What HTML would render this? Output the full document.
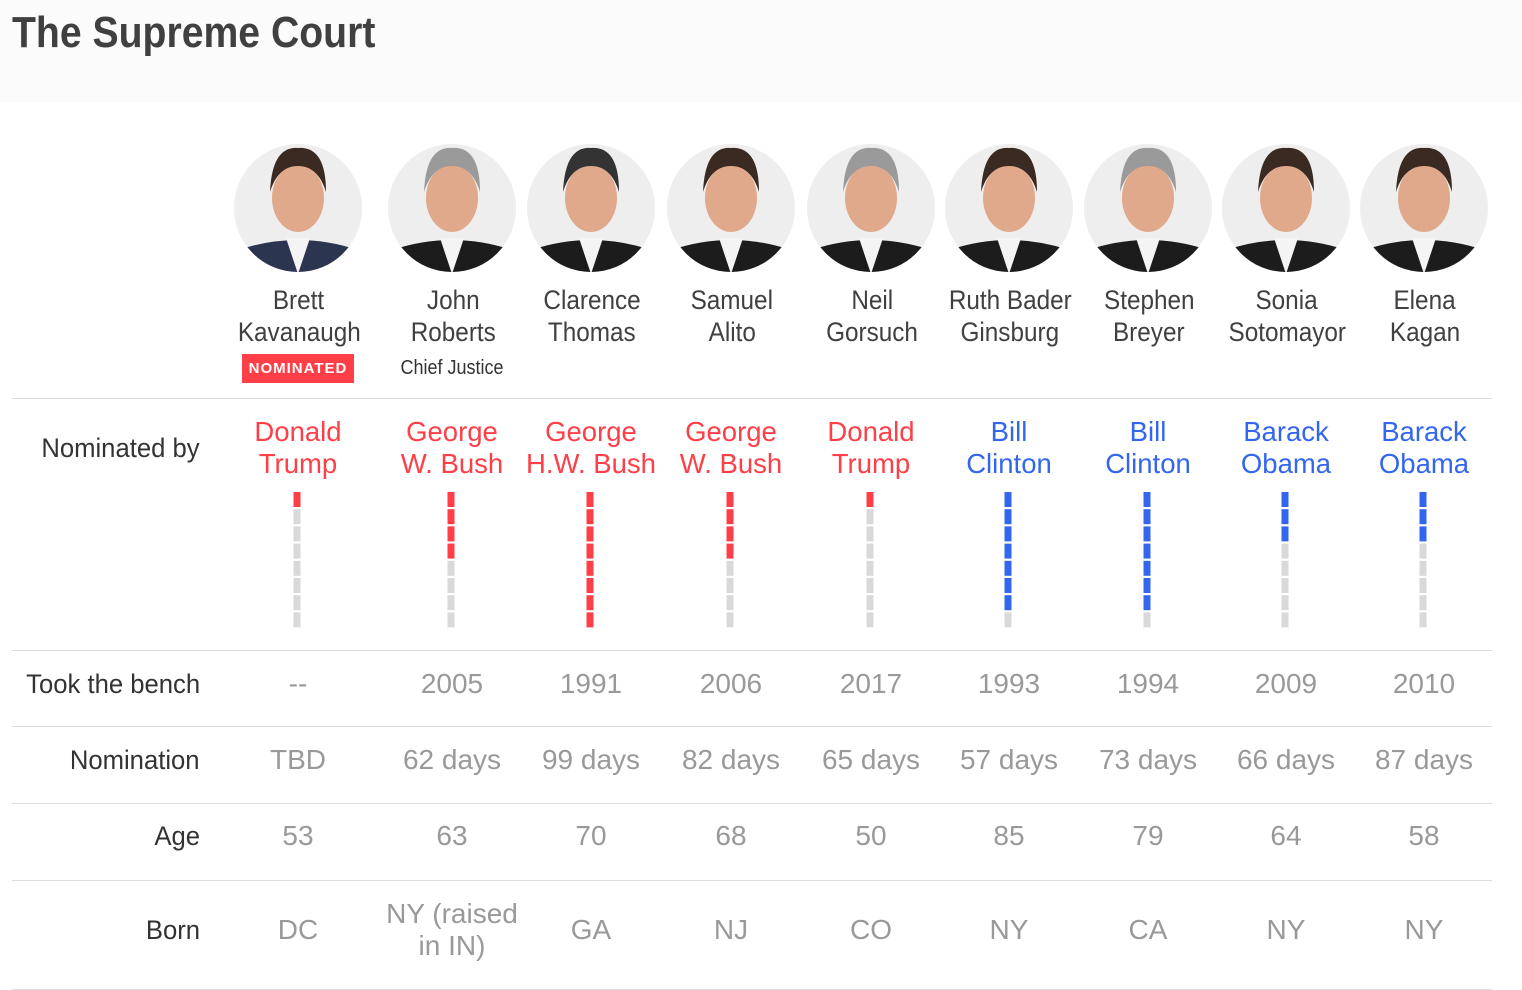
<!DOCTYPE html>
<html><head><meta charset="utf-8"><style>
body{margin:0;width:1522px;height:990px;background:#fff;position:relative;overflow:hidden;font-family:"Liberation Sans",sans-serif}
.hdr{position:absolute;left:0;top:0;width:1522px;height:102px;background:#fbfbfb}
.title{position:absolute;left:12px;top:8px;font:bold 44px "Liberation Sans",sans-serif;color:#404040;transform:scaleX(.89);transform-origin:left center;white-space:nowrap}
.a{position:absolute;text-align:center;white-space:nowrap}
.nm{font:27px/32px "Liberation Sans",sans-serif;color:#404040}
.nm span{display:inline-block;transform:scaleX(.9);transform-origin:center}
.pres{font:27.5px/32px "Liberation Sans",sans-serif}
.val{font:28px/32px "Liberation Sans",sans-serif;color:#999}
.lab{position:absolute;right:1322px;font:27px/32px "Liberation Sans",sans-serif;color:#333;text-align:right;white-space:nowrap;transform:scaleX(.95);transform-origin:right center}
.line{position:absolute;left:12px;width:1480px;height:1px;background:#ddd}
</style></head><body>
<div class="hdr"></div>
<div class="title">The Supreme Court</div>
<svg id="svg" width="1522" height="990" style="position:absolute;left:0;top:0"></svg>
<div id="cols"></div>
<div class="lab" style="top:432px">Nominated by</div>
<div class="lab" style="top:668px">Took the bench</div>
<div class="lab" style="top:744px">Nomination</div>
<div class="lab" style="top:820px">Age</div>
<div class="lab" style="top:914px">Born</div>
<div class="line" style="top:398px"></div>
<div class="line" style="top:650px"></div>
<div class="line" style="top:726px"></div>
<div class="line" style="top:803px"></div>
<div class="line" style="top:880px"></div>
<div class="line" style="top:989px"></div>
<script>
const names=[["Brett","Kavanaugh"],["John","Roberts"],["Clarence","Thomas"],["Samuel","Alito"],["Neil","Gorsuch"],["Ruth Bader","Ginsburg"],["Stephen","Breyer"],["Sonia","Sotomayor"],["Elena","Kagan"]];
const presidents=[["Donald","Trump"],["George","W. Bush"],["George","H.W. Bush"],["George","W. Bush"],["Donald","Trump"],["Bill","Clinton"],["Bill","Clinton"],["Barack","Obama"],["Barack","Obama"]];
const party=["R","R","R","R","R","D","D","D","D"];
const filled=[1,4,8,4,1,7,7,3,3];
const totalSegs=8;
const bench=["--","2005","1991","2006","2017","1993","1994","2009","2010"];
const nomination=["TBD","62 days","99 days","82 days","65 days","57 days","73 days","66 days","87 days"];
const ages=["53","63","70","68","50","85","79","64","58"];
const born=[["DC"],["NY (raised","in IN)"],["GA"],["NJ"],["CO"],["NY"],["CA"],["NY"],["NY"]];

const colX=i=>[298,452,591,731,871,1009,1148,1286,1424][i];
const barX=i=>colX(i)-1;
const segY=k=>492+k*17.2;
const svg=document.getElementById('svg');
const cols=document.getElementById('cols');
const NS='http://www.w3.org/2000/svg';
function mk(tag,attrs){const e=document.createElementNS(NS,tag);for(const k in attrs)e.setAttribute(k,attrs[k]);svg.appendChild(e);return e;}
function div(cls,x,y,html){const d=document.createElement('div');d.className='a '+cls;d.style.left=(x-100)+'px';d.style.width='200px';d.style.top=y+'px';d.innerHTML=html;cols.appendChild(d);return d;}
names.forEach((n,i)=>{
  const cx=colX(i),cy=208;
  const g=mk('g',{});
  
  
  const c=mk('circle',{cx:cx,cy:cy,r:64,fill:'#eeeeee'});
  g.appendChild(c);
  const clip=mk('clipPath',{id:'c'+i});clip.appendChild(mk('circle',{cx:cx,cy:cy,r:64}));
  const inner=mk('g',{'clip-path':'url(#c'+i+')'});
  inner.appendChild(mk('path',{d:`M${cx-70} ${cy+80} L${cx-60} ${cy+42} Q${cx} ${cy+22} ${cx+60} ${cy+42} L${cx+70} ${cy+80}Z`,fill:i==0?'#2c3550':'#1c1c1c'}));
  inner.appendChild(mk('path',{d:`M${cx-12} ${cy+30} L${cx} ${cy+66} L${cx+12} ${cy+30}Z`,fill:'#f4f4f4'}));
  inner.appendChild(mk('ellipse',{cx:cx,cy:cy-10,rx:26,ry:34,fill:'#e0a98b'}));
  inner.appendChild(mk('path',{d:`M${cx-28} ${cy-16} Q${cx-26} ${cy-62} ${cx} ${cy-60} Q${cx+28} ${cy-62} ${cx+28} ${cy-16} Q${cx+20} ${cy-42} ${cx} ${cy-42} Q${cx-20} ${cy-42} ${cx-28} ${cy-16}Z`,fill:(i==1||i==4||i==6)?'#9a9a9a':(i==2)?'#333':'#3a2a22'}));
  g.appendChild(inner);

  const nd=div('nm',colX(i)+1,284,'<span>'+n[0]+'</span><br><span>'+n[1]+'</span>');
  
  
  const col=party[i]=='R'?'#fe3f47':'#3366ee';
  const pd=div('pres',colX(i),416,presidents[i][0]+'<br>'+presidents[i][1]);pd.style.color=col;
  
  
  for(let k=0;k<totalSegs;k++){
    const r=mk('rect',{x:barX(i)-3.5,y:segY(k),width:7,height:15,fill:k<filled[i]?col:'#d9d9d9'});
    
    
  }
  const b=div('val',colX(i),668,bench[i]);
  
  
  const nm=div('val',colX(i),744,nomination[i]);
  
  
  const ag=div('val',colX(i),820,ages[i]);
  
  
  const bo=div('val',colX(i),born[i].length>1?898:914,born[i].join('<br>'));
  
  
});
const nb=document.createElement('div');


nb.style.cssText='position:absolute;left:242px;top:354px;width:112px;height:29px;background:#fe3f47;color:#fff;font:bold 15px/29px "Liberation Sans",sans-serif;letter-spacing:1px;text-align:center';
nb.textContent='NOMINATED';cols.appendChild(nb);
const cj=document.createElement('div');


cj.style.cssText='position:absolute;left:352px;width:200px;top:354px;text-align:center;font:20px/28px "Liberation Sans",sans-serif;color:#333;transform:scaleX(.9)';
cj.textContent='Chief Justice';cols.appendChild(cj);
</script>
</body></html>
